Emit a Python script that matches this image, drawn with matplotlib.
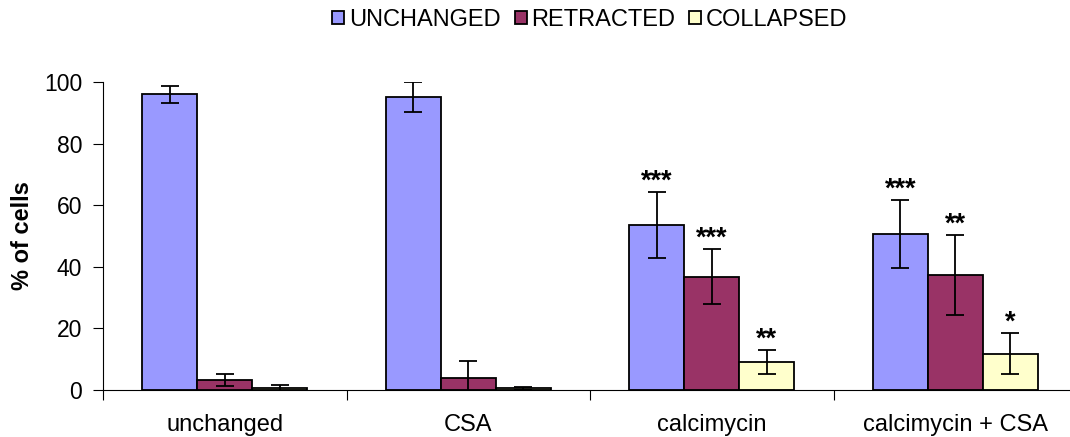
import matplotlib
matplotlib.use("Agg")
import matplotlib.pyplot as plt
import numpy as np

# data
groups = ["unchanged", "CSA", "calcimycin", "calcimycin + CSA"]
series = ["UNCHANGED", "RETRACTED", "COLLAPSED"]
unchanged = [96.0, 95.2, 53.5, 50.7]
unchanged_err = [2.8, 4.8, 10.7, 11.0]
retracted = [3.3, 4.0, 36.8, 37.4]
retracted_err = [2.0, 5.4, 9.0, 13.0]
collapsed = [0.5, 0.5, 9.2, 11.8]
collapsed_err = [1.2, 0.6, 3.9, 6.6]
stars_unchanged = ["", "", "***", "***"]
stars_retracted = ["", "", "***", "**"]
stars_collapsed = ["", "", "**", "*"]

colors = ["#9999FF", "#993366", "#FFFFCC"]

plt.rcParams["font.family"] = ["Liberation Sans", "DejaVu Sans"]

fig = plt.figure(figsize=(10.7, 4.37), dpi=100)
ax = fig.add_axes([103 / 1070, 47 / 437, 967 / 1070, 308 / 437])

values = [unchanged, retracted, collapsed]
errors = [unchanged_err, retracted_err, collapsed_err]
stars = [stars_unchanged, stars_retracted, stars_collapsed]
width = 0.226
x = np.arange(len(groups)) + 0.5

for i, (vals, errs, st) in enumerate(zip(values, errors, stars)):
    pos = x + (i - 1) * width
    ax.bar(pos, vals, width, color=colors[i], edgecolor="black",
           linewidth=1.3, label=series[i], zorder=2)
    ax.errorbar(pos, vals, yerr=errs, fmt="none", ecolor="black",
                elinewidth=1.3, capsize=6.5, capthick=1.3, zorder=3)
    for p, v, e, s in zip(pos, vals, errs, st):
        if s:
            ax.annotate(s, (p, v + e), xytext=(0, 7.5), textcoords="offset points",
                        ha="center", va="center", fontsize=19.5, fontweight="bold")

ax.set_xlim(0, 967 / 243.5)
ax.set_ylim(0, 100)
ax.set_yticks([0, 20, 40, 60, 80, 100])
ax.set_xticks([0, 1, 2, 3])
ax.set_xticklabels([])
ax.set_xticks(x, minor=True)
ax.set_xticklabels(groups, minor=True)
ax.tick_params(axis="x", which="major", length=7, width=0.8, direction="out")
ax.tick_params(axis="x", which="minor", length=0, pad=17, labelsize=17)
ax.tick_params(axis="y", length=7, width=0.8, direction="out", pad=8, labelsize=16.5)
ax.spines["top"].set_visible(False)
ax.spines["right"].set_visible(False)
ax.spines["left"].set_linewidth(0.8)
ax.spines["bottom"].set_linewidth(0.8)
ax.set_ylabel("% of cells", fontsize=17, fontweight="bold", labelpad=7)

fig.legend(loc="center", bbox_to_anchor=(590 / 1070, 1 - 20 / 437), ncol=3,
           frameon=False, fontsize=17, handlelength=0.5, handleheight=0.5,
           handletextpad=0.2, columnspacing=0.6, borderaxespad=0)

fig.savefig("out.png", dpi=100)
